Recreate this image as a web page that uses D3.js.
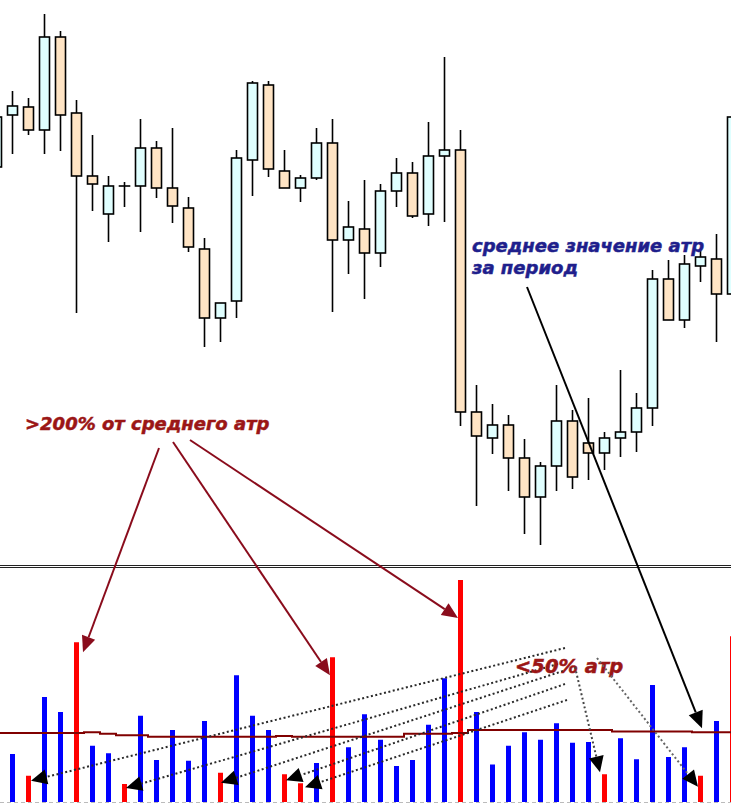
<!DOCTYPE html>
<html>
<head>
<meta charset="utf-8">
<script src="https://cdn.jsdelivr.net/npm/d3@7"></script>
<style>
  html, body { margin: 0; padding: 0; background: #fff; }
  svg { display: block; }
</style>
</head>
<body>
<svg id="chart" width="731" height="807"></svg>
<script>
// bar index -1 is the half hidden candle on the left edge
const barIndex = d3.range(-1, 46);

const opens = [
  1.2893, 1.2945, 1.2953, 1.2930, 1.3023, 1.2947, 1.2884, 1.2846, 1.2874, 1.2874,
  1.2912, 1.2872, 1.2852, 1.2811, 1.2742, 1.2759, 1.2900, 1.2975, 1.2889, 1.2872,
  1.2882, 1.2917, 1.2820, 1.2831, 1.2807, 1.2869, 1.2887, 1.2846, 1.2904, 1.2910,
  1.2648, 1.2622, 1.2635, 1.2602, 1.2563, 1.2594, 1.2639, 1.2617, 1.2607, 1.2622,
  1.2628, 1.2652, 1.2781, 1.2740, 1.2794, 1.2801, 1.2766
];
const highs = [
  1.2948, 1.2969, 1.2962, 1.3046, 1.3029, 1.2960, 1.2925, 1.2884, 1.2878, 1.2941,
  1.2919, 1.2932, 1.2863, 1.2822, 1.2757, 1.2910, 1.2979, 1.2979, 1.2910, 1.2885,
  1.2932, 1.2941, 1.2859, 1.2880, 1.2876, 1.2902, 1.2898, 1.2938, 1.3003, 1.2930,
  1.2675, 1.2656, 1.2645, 1.2621, 1.2598, 1.2675, 1.2650, 1.2662, 1.2628, 1.2690,
  1.2667, 1.2790, 1.2800, 1.2805, 1.2811, 1.2826, 1.2950
];
const lows = [
  1.2888, 1.2906, 1.2925, 1.2906, 1.2909, 1.2747, 1.2849, 1.2818, 1.2853, 1.2828,
  1.2862, 1.2837, 1.2808, 1.2713, 1.2718, 1.2742, 1.2864, 1.2883, 1.2872, 1.2858,
  1.2880, 1.2748, 1.2786, 1.2761, 1.2793, 1.2853, 1.2842, 1.2834, 1.2838, 1.2634,
  1.2554, 1.2606, 1.2569, 1.2526, 1.2515, 1.2569, 1.2571, 1.2580, 1.2590, 1.2603,
  1.2608, 1.2634, 1.2740, 1.2732, 1.2778, 1.2718, 1.2760
];
const closes = [
  1.2943, 1.2954, 1.2930, 1.3023, 1.2945, 1.2884, 1.2876, 1.2874, 1.2874, 1.2912,
  1.2872, 1.2854, 1.2813, 1.2742, 1.2757, 1.2902, 1.2977, 1.2891, 1.2872, 1.2882,
  1.2917, 1.2820, 1.2833, 1.2807, 1.2869, 1.2887, 1.2844, 1.2904, 1.2910, 1.2648,
  1.2624, 1.2635, 1.2602, 1.2563, 1.2594, 1.2639, 1.2583, 1.2607, 1.2622, 1.2628,
  1.2652, 1.2781, 1.2740, 1.2796, 1.2803, 1.2766, 1.2943
];

// atr histogram, pips
const atrValues = [
  80, 64, 35, 140, 120, 213, 75, 65, 24, 115,
  56, 96, 55, 108, 39, 169, 115, 96, 37, 25,
  52, 193, 73, 117, 83, 48, 56, 103, 165, 296,
  120, 50, 75, 93, 83, 105, 79, 80, 37, 85,
  57, 156, 60, 73, 35, 108, 221
];
// average atr for the period, pips
const atrAverage = [
  92, 92, 92, 92, 92, 92, 93, 91, 89, 89,
  87, 87, 87, 87, 87, 87, 87, 87, 88, 87,
  87, 87, 87, 87, 87, 87, 91, 91, 91, 92,
  96, 96, 96, 96, 96, 96, 96, 96, 96, 94,
  94, 94, 94, 94, 93, 93, 93
];

const bigLabel = ">200% от среднего атр";
const smallLabel = "<50% атр";
const avgLabel = ["среднее значение атр", "за период"];

const width = 731;
const height = 807;
const paneBottom = 564;
const histBase = 802;

const bars = barIndex.map((idx, i) => ({
  idx,
  open: opens[i],
  high: highs[i],
  low: lows[i],
  close: closes[i],
  atr: atrValues[i],
  avg: atrAverage[i]
}));
const byIdx = new Map(bars.map(d => [d.idx, d]));

const x = d3.scaleLinear().domain([0, 45]).range([12, 732]);
const y = d3.scaleLinear().domain([1.2500, 1.3060]).range([560, 0]);
const yAtr = d3.scaleLinear().domain([0, 300]).range([histBase, 577]);

const svg = d3.select('#chart');

svg.append('defs')
  .append('clipPath')
  .attr('id', 'pane')
  .append('rect')
  .attr('x', 0).attr('y', 0)
  .attr('width', width).attr('height', paneBottom);

// candles
const candles = svg.append('g')
  .attr('clip-path', 'url(#pane)')
  .selectAll('g.candle')
  .data(bars)
  .join('g')
  .attr('class', 'candle');

candles.append('line')
  .attr('x1', d => Math.round(x(d.idx)) + 0.5)
  .attr('x2', d => Math.round(x(d.idx)) + 0.5)
  .attr('y1', d => y(d.high))
  .attr('y2', d => y(d.low))
  .attr('stroke', '#000')
  .attr('stroke-width', 1.6);

candles.append('rect')
  .attr('x', d => Math.round(x(d.idx)) - 4.5)
  .attr('width', 10)
  .attr('y', d => y(Math.max(d.open, d.close)))
  .attr('height', d => Math.max(0.01, Math.abs(y(d.open) - y(d.close))))
  .attr('fill', d => d.close >= d.open ? '#e0ffff' : '#ffe4c4')
  .attr('stroke', '#000')
  .attr('stroke-width', 1.6);

// pane separator
[565.5, 567.5].forEach(yy => {
  svg.append('line')
    .attr('x1', 0).attr('x2', width)
    .attr('y1', yy).attr('y2', yy)
    .attr('stroke', '#222')
    .attr('stroke-width', 1);
});

// zero line of the atr pane
svg.append('line')
  .attr('x1', 0).attr('x2', width)
  .attr('y1', histBase + 0.5).attr('y2', histBase + 0.5)
  .attr('stroke', '#bbb')
  .attr('stroke-dasharray', '4,3');

// atr histogram: red when outside 50%..200% of the average
const isSignal = d => d.atr > 2 * d.avg || d.atr < 0.5 * d.avg;

svg.append('g')
  .selectAll('rect')
  .data(bars)
  .join('rect')
  .attr('x', d => Math.round(x(d.idx)) - 2)
  .attr('width', 5)
  .attr('y', d => yAtr(d.atr))
  .attr('height', d => histBase - yAtr(d.atr))
  .attr('fill', d => isSignal(d) ? '#ff0000' : '#0000ff');

svg.append('path')
  .datum(bars)
  .attr('fill', 'none')
  .attr('stroke', '#800000')
  .attr('stroke-width', 2)
  .attr('d', d3.line()
    .curve(d3.curveStep)
    .x(d => x(d.idx))
    .y(d => yAtr(d.avg)));

// annotations
const notes = svg.append('g');

const arrow = (x1, y1, x2, y2, colour, opts = {}) => {
  const headLen = opts.headLen || 15;
  const headW = opts.headW || 6;
  const ang = Math.atan2(y2 - y1, x2 - x1);
  const bx = x2 - headLen * Math.cos(ang);
  const by = y2 - headLen * Math.sin(ang);
  notes.append('line')
    .attr('x1', x1).attr('y1', y1)
    .attr('x2', bx).attr('y2', by)
    .attr('stroke', opts.lineColour || colour)
    .attr('stroke-width', opts.strokeWidth || 2)
    .attr('stroke-dasharray', opts.dash || null);
  const px = -Math.sin(ang) * headW;
  const py = Math.cos(ang) * headW;
  notes.append('path')
    .attr('d', `M${x2},${y2}L${bx + px},${by + py}L${bx - px},${by - py}Z`)
    .attr('fill', colour);
};

const tipAt = (idx, dx, dy) => {
  const d = byIdx.get(idx);
  return [Math.round(x(idx)) + dx, yAtr(d.atr) + dy];
};

const label = (txt, lx, ly, size, colour) => notes.append('text')
  .attr('x', lx).attr('y', ly)
  .attr('fill', colour)
  .attr('stroke', colour)
  .attr('stroke-width', 0.5)
  .style('font', `italic bold ${size}px "DejaVu Sans", sans-serif`)
  .text(txt);

// >200% arrows
const bigTargets = [
  { from: [159, 448], idx: 4, dx: 7, dy: 10 },
  { from: [173, 442], idx: 20, dx: -2, dy: 18 },
  { from: [190, 440], idx: 28, dx: -2, dy: 38 }
];
bigTargets.forEach(t => {
  const [tx, ty] = tipAt(t.idx, t.dx, t.dy);
  arrow(t.from[0], t.from[1], tx, ty, '#8a0c1c', { headLen: 16, headW: 7 });
});

label(bigLabel, 25, 430, 18, '#9b1616');

// <50% dotted arrows
const smallTargets = [
  { from: [565, 648], idx: 1, dx: 3, dy: 5 },
  { from: [558, 664], idx: 7, dx: 2, dy: 4 },
  { from: [563, 671], idx: 13, dx: 1, dy: 10 },
  { from: [565, 684], idx: 17, dx: 2, dy: 6 },
  { from: [567, 700], idx: 18, dx: 5, dy: 4 }
];
smallTargets.forEach(t => {
  const [tx, ty] = tipAt(t.idx, t.dx, t.dy);
  arrow(t.from[0], t.from[1], tx, ty, '#000',
    { lineColour: '#2a2a2a', dash: '2,2.5', headLen: 16, headW: 7.5 });
});

label(smallLabel, 515, 673, 19.5, '#9b1616');

const labelTargets = [
  { from: [575, 667], idx: 37, dx: -4, dy: -2, colour: '#444' },
  { from: [597, 658], idx: 43, dx: -2, dy: 11, colour: '#666' }
];
labelTargets.forEach(t => {
  const [tx, ty] = tipAt(t.idx, t.dx, t.dy);
  arrow(t.from[0], t.from[1], tx, ty, '#000',
    { lineColour: t.colour, dash: '2,2.5', headLen: 16, headW: 7.5 });
});

// average atr label
avgLabel.forEach((line, i) => label(line, 472, 252 + i * 22, 18, '#1f1f8c'));

const avgTip = byIdx.get(43);
arrow(527, 287, Math.round(x(43)) + 2, yAtr(avgTip.avg) - 4, '#000', { headLen: 17, headW: 7.5 });
</script>
</body>
</html>
